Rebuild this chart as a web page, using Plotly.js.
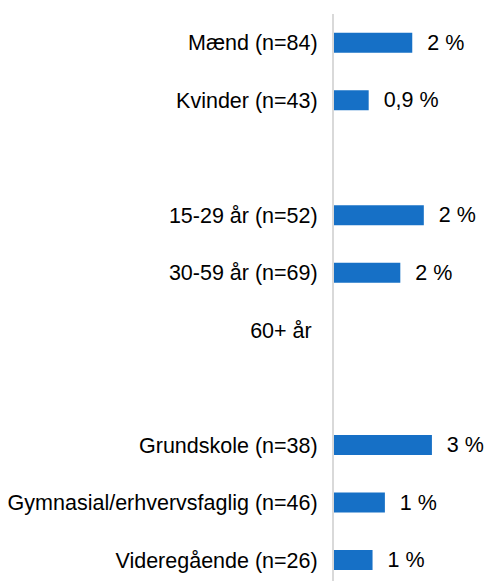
<!DOCTYPE html>
<html>
<head>
<meta charset="utf-8">
<script src="https://cdn.plot.ly/plotly-3.0.1.min.js"></script>
<style>html,body{margin:0;padding:0;background:#fff;}#chart{width:485px;height:581px;}</style>
</head>
<body>
<div id="chart"></div>
<script>
// Categories (blank strings are spacer rows between groups)
const categories = [
  "Mænd (n=84)",
  "Kvinder (n=43)",
  " ",
  "15-29 år (n=52)",
  "30-59 år (n=69)",
  "60+ år\u00a0",
  "  ",
  "Grundskole (n=38)",
  "Gymnasial/erhvervsfaglig (n=46)",
  "Videregående (n=26)"
];
// Share in percent
const values = [2.03, 0.9, null, 2.33, 1.72, null, null, 2.54, 1.32, 1.0];
// Displayed value labels
const valueLabels = ["2 %", "0,9 %", "", "2 %", "2 %", "", "", "3 %", "1 %", "1 %"];

const pad = "\u00a0\u00a0";
const trace = {
  type: "bar",
  orientation: "h",
  y: categories,
  x: values,
  text: valueLabels.map(t => t ? pad + t : ""),
  textposition: "outside",
  cliponaxis: false,
  constraintext: "none",
  textfont: {family: "Liberation Sans, Arial, sans-serif", size: 21.5, color: "#000"},
  marker: {color: "#1670c6", line: {width: 0}},
  hoverinfo: "none"
};

const layout = {
  width: 485,
  height: 581,
  margin: {l: 334, r: 0, t: 14, b: 0},
  paper_bgcolor: "#fff",
  plot_bgcolor: "#fff",
  showlegend: false,
  bargap: 0.652,
  font: {family: "Liberation Sans, Arial, sans-serif", size: 21.5, color: "#000"},
  xaxis: {
    range: [0, 3.917],
    showgrid: false,
    zeroline: false,
    showline: false,
    showticklabels: false,
    ticks: ""
  },
  yaxis: {
    type: "category",
    categoryorder: "array",
    categoryarray: categories,
    range: [9.365, -0.5],
    showgrid: false,
    zeroline: false,
    showline: true,
    linecolor: "#d9d9d9",
    linewidth: 2,
    ticks: "",
    ticklabelstandoff: 10,
    tickfont: {family: "Liberation Sans, Arial, sans-serif", size: 21.5, color: "#000"}
  }
};

Plotly.newPlot("chart", [trace], layout, {displayModeBar: false, staticPlot: true});
</script>
</body>
</html>
